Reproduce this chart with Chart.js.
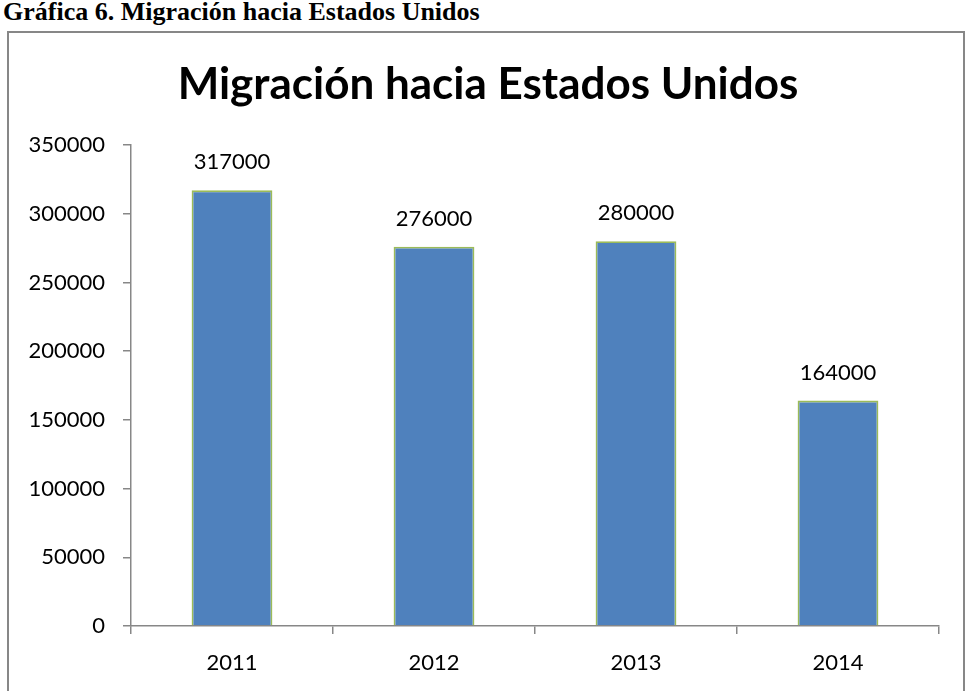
<!DOCTYPE html>
<html>
<head>
<meta charset="utf-8">
<script src="https://cdn.jsdelivr.net/npm/chart.js@4.4.1/dist/chart.umd.min.js"></script>
<style>
  html, body { margin: 0; padding: 0; background: #fff; }
  body { width: 969px; height: 691px; position: relative; overflow: hidden; }
  #caption {
    position: absolute; left: 3px; top: -1px;
    font: bold 26px "Liberation Serif", "Times New Roman", serif;
    line-height: 26px; color: #000; white-space: nowrap;
  }
  #frame {
    position: absolute; left: 7px; top: 31px; width: 958px; height: 700px;
    border: 2px solid #878787; box-sizing: border-box;
  }
  #wrap { position: absolute; left: 0; top: 0; width: 969px; height: 691px; }
</style>
</head>
<body>
<div id="caption">Gráfica 6. Migración hacia Estados Unidos</div>
<div id="frame"></div>
<div id="wrap"><canvas id="myChart"></canvas></div>
<script>
// chart data
const years = ['2011', '2012', '2013', '2014'];
const migrants = [317000, 276000, 280000, 164000];
const yTicks = [0, 50000, 100000, 150000, 200000, 250000, 300000, 350000];
const chartTitle = 'Migración hacia Estados Unidos';

const axisColor = '#878787';
const labelFont = { family: 'Lato', size: 22 };

// value labels above each bar
const barLabels = {
  id: 'barLabels',
  afterDatasetsDraw(chart) {
    const ctx = chart.ctx;
    ctx.save();
    ctx.font = '22px Lato';
    ctx.fillStyle = '#000';
    ctx.textAlign = 'center';
    ctx.textBaseline = 'middle';
    chart.getDatasetMeta(0).data.forEach((bar, i) => {
      ctx.fillText(String(migrants[i]), bar.x, bar.y - 28);
    });
    ctx.restore();
  }
};

// title centred on the frame, not on the plot
const frameTitle = {
  id: 'frameTitle',
  afterDraw(chart) {
    const ctx = chart.ctx;
    ctx.save();
    ctx.font = 'bold 44px Lato';
    ctx.fillStyle = '#000';
    ctx.textAlign = 'center';
    ctx.textBaseline = 'middle';
    ctx.fillText(chartTitle, 488, 85);
    ctx.restore();
  }
};

const ctx = document.getElementById('myChart').getContext('2d');
new Chart(ctx, {
  type: 'bar',
  data: {
    labels: years,
    datasets: [{
      label: 'Migración',
      data: migrants,
      backgroundColor: '#4F81BD',
      borderColor: '#9BBB59',
      borderWidth: 1.8,
      categoryPercentage: 1.0,
      barPercentage: 0.4,
    }],
  },
  options: {
    responsive: true,
    maintainAspectRatio: false,
    animation: false,
    layout: { padding: { left: 0, right: 30, top: 145, bottom: 0 } },
    plugins: {
      legend: { display: false },
      tooltip: { enabled: false },
      title: { display: false },
    },
    scales: {
      x: {
        afterFit(scale) { scale.height = 65; },
        grid: {
          drawOnChartArea: false,
          tickLength: 8,
          color: axisColor,
          lineWidth: 1.5,
        },
        border: { color: axisColor, width: 1.5 },
        ticks: { color: '#000', font: labelFont, padding: 16 },
      },
      y: {
        min: 0,
        max: 350000,
        afterFit(scale) { scale.width = 131; },
        afterBuildTicks(scale) { scale.ticks = yTicks.map(v => ({ value: v })); },
        grid: {
          drawOnChartArea: false,
          tickLength: 8,
          color: axisColor,
          lineWidth: 1.5,
        },
        border: { color: axisColor, width: 1.5 },
        ticks: {
          color: '#000',
          font: labelFont,
          padding: 18,
          callback: v => String(v),
        },
      },
    },
  },
  plugins: [barLabels, frameTitle],
});
</script>
</body>
</html>
